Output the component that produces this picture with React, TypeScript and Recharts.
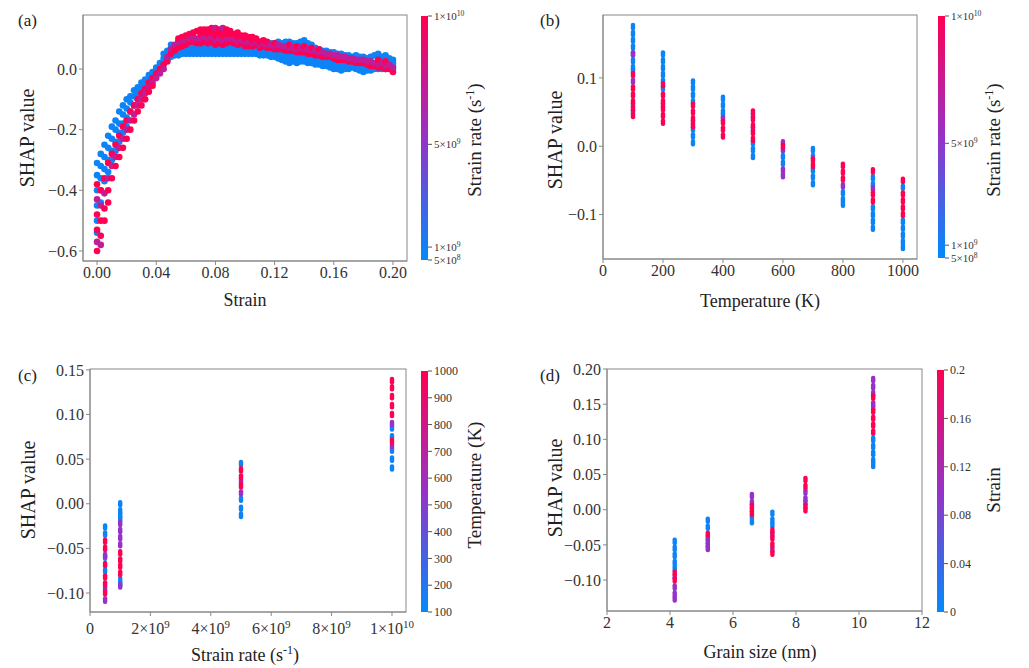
import React from 'react';
import { ScatterChart, Scatter, XAxis, YAxis } from 'recharts';

// colour value: 0 = low (blue), 1 = high (pink)
const LO = 0.04;
const MID = 0.5;
const HI = 1;

// (a) SHAP vs strain: [strain, blue ys, pink ys]
const strainCols: [number, number[], number[]][] = [
  [0.0, [-0.31, -0.35, -0.4, -0.45, -0.5, -0.54], [-0.38, -0.43, -0.48, -0.53, -0.57, -0.6]],
  [0.0025, [-0.28, -0.32, -0.36, -0.4, -0.44], [-0.4, -0.45, -0.5, -0.55, -0.58]],
  [0.005, [-0.25, -0.29, -0.33, -0.37], [-0.36, -0.41, -0.46, -0.5]],
  [0.0075, [-0.22, -0.26, -0.3, -0.34], [-0.31, -0.36, -0.4, -0.44]],
  [0.01, [-0.19, -0.23, -0.27, -0.3], [-0.28, -0.32, -0.36]],
  [0.0125, [-0.17, -0.2, -0.24, -0.27], [-0.25, -0.29, -0.32]],
  [0.015, [-0.14, -0.18, -0.21, -0.24], [-0.22, -0.26, -0.29]],
  [0.0175, [-0.12, -0.15, -0.18, -0.21], [-0.19, -0.23, -0.26]],
  [0.02, [-0.1, -0.13, -0.16, -0.19], [-0.17, -0.2, -0.23]],
  [0.0225, [-0.09, -0.11, -0.14], [-0.14, -0.17, -0.2]],
  [0.025, [-0.07, -0.09, -0.12], [-0.12, -0.15, -0.17]],
  [0.0275, [-0.06, -0.08, -0.1], [-0.1, -0.12, -0.14]],
  [0.03, [-0.045, -0.065, -0.085], [-0.08, -0.1, -0.12]],
  [0.0325, [-0.035, -0.05, -0.07], [-0.065, -0.08, -0.1]],
  [0.035, [-0.02, -0.035, -0.05], [-0.045, -0.06, -0.075]],
  [0.0375, [-0.01, -0.025], [-0.03, -0.045, -0.055]],
  [0.04, [0.005, -0.01], [-0.015, -0.03]],
  [0.0425, [0.02, 0.005], [0.0, -0.015]],
  [0.045, [0.035, 0.02, 0.05], [0.015, 0.0]],
  [0.0475, [0.045, 0.03, 0.06], [0.025, 0.04]],
  [0.05, [0.04, 0.055, 0.07, 0.08], [0.05, 0.065]],
  [0.0525, [0.045, 0.06, 0.075], [0.06, 0.08]],
  [0.055, [0.045, 0.06, 0.08, 0.09], [0.07, 0.09, 0.1]],
  [0.0575, [0.05, 0.065, 0.085], [0.075, 0.095, 0.105]],
  [0.06, [0.05, 0.06, 0.075, 0.1], [0.08, 0.095, 0.11]],
  [0.0625, [0.05, 0.065, 0.08], [0.09, 0.1, 0.115]],
  [0.065, [0.05, 0.06, 0.07, 0.085], [0.09, 0.105, 0.12]],
  [0.0675, [0.05, 0.06, 0.075], [0.085, 0.1, 0.125]],
  [0.07, [0.05, 0.06, 0.07], [0.085, 0.1, 0.115, 0.13]],
  [0.0725, [0.05, 0.065, 0.075], [0.09, 0.105, 0.12, 0.13]],
  [0.075, [0.05, 0.06, 0.07], [0.085, 0.1, 0.115, 0.13]],
  [0.0775, [0.05, 0.065, 0.075], [0.09, 0.105, 0.12, 0.135]],
  [0.08, [0.05, 0.06, 0.07], [0.08, 0.095, 0.11, 0.125, 0.135]],
  [0.0825, [0.05, 0.065, 0.075], [0.085, 0.1, 0.115, 0.13]],
  [0.085, [0.05, 0.06, 0.07], [0.08, 0.095, 0.11, 0.125, 0.135]],
  [0.0875, [0.05, 0.065, 0.075], [0.085, 0.1, 0.115, 0.13]],
  [0.09, [0.05, 0.06, 0.07, 0.08], [0.09, 0.1, 0.115, 0.125]],
  [0.0925, [0.05, 0.065, 0.075], [0.085, 0.1, 0.115]],
  [0.095, [0.05, 0.06, 0.07], [0.08, 0.09, 0.105, 0.12]],
  [0.0975, [0.05, 0.065, 0.08], [0.085, 0.095, 0.11]],
  [0.1, [0.05, 0.06, 0.07, 0.085], [0.075, 0.09, 0.1, 0.11]],
  [0.1025, [0.05, 0.065], [0.075, 0.09, 0.105]],
  [0.105, [0.05, 0.06, 0.07], [0.075, 0.085, 0.095, 0.105]],
  [0.1075, [0.05, 0.06, 0.07], [0.08, 0.09, 0.1]],
  [0.11, [0.045, 0.055, 0.065, 0.09], [0.07, 0.08, 0.09]],
  [0.1125, [0.045, 0.06, 0.085], [0.075, 0.085, 0.095]],
  [0.115, [0.045, 0.055, 0.065, 0.085], [0.07, 0.08, 0.09]],
  [0.1175, [0.04, 0.055, 0.085], [0.07, 0.08]],
  [0.12, [0.04, 0.05, 0.06, 0.085], [0.065, 0.075, 0.085]],
  [0.1225, [0.035, 0.05, 0.09], [0.065, 0.08]],
  [0.125, [0.03, 0.045, 0.055, 0.085], [0.065, 0.075]],
  [0.1275, [0.025, 0.04, 0.09], [0.06, 0.075]],
  [0.13, [0.02, 0.035, 0.05, 0.09], [0.06, 0.07, 0.08]],
  [0.1325, [0.025, 0.04, 0.085], [0.06, 0.07]],
  [0.135, [0.02, 0.035, 0.045, 0.085], [0.055, 0.065, 0.075]],
  [0.1375, [0.025, 0.04, 0.09], [0.055, 0.07]],
  [0.14, [0.025, 0.035, 0.045, 0.095], [0.055, 0.065, 0.075]],
  [0.1425, [0.02, 0.035, 0.085], [0.05, 0.065]],
  [0.145, [0.02, 0.03, 0.04, 0.08], [0.05, 0.06, 0.07]],
  [0.1475, [0.015, 0.03, 0.07], [0.045, 0.06]],
  [0.15, [0.015, 0.025, 0.035, 0.065], [0.045, 0.055, 0.065]],
  [0.1525, [0.01, 0.025, 0.06], [0.04, 0.055]],
  [0.155, [0.01, 0.02, 0.03, 0.06], [0.04, 0.05]],
  [0.1575, [0.005, 0.02, 0.055], [0.04, 0.05]],
  [0.16, [0.0, 0.01, 0.02, 0.055], [0.035, 0.045]],
  [0.1625, [0.0, 0.015, 0.05], [0.03, 0.045]],
  [0.165, [-0.005, 0.01, 0.02, 0.05], [0.03, 0.04]],
  [0.1675, [0.0, 0.015, 0.045], [0.03, 0.04]],
  [0.17, [0.0, 0.01, 0.02, 0.045], [0.025, 0.035]],
  [0.1725, [0.005, 0.015, 0.04], [0.025, 0.035]],
  [0.175, [0.0, 0.01, 0.02, 0.045], [0.02, 0.03]],
  [0.1775, [-0.005, 0.01, 0.04], [0.02, 0.03]],
  [0.18, [-0.01, 0.005, 0.015, 0.04], [0.02, 0.03]],
  [0.1825, [-0.005, 0.01, 0.035], [0.015, 0.025]],
  [0.185, [-0.005, 0.005, 0.015, 0.04], [0.01, 0.025]],
  [0.1875, [0.0, 0.01, 0.045], [0.01, 0.02]],
  [0.19, [0.0, 0.01, 0.02, 0.05], [0.005, 0.015, 0.03]],
  [0.1925, [0.0, 0.015, 0.04], [0.005, 0.02]],
  [0.195, [0.0, 0.01, 0.02, 0.045], [0.0, 0.01, 0.025]],
  [0.1975, [0.005, 0.015, 0.035], [0.0, 0.015]],
  [0.2, [0.0, 0.01, 0.02, 0.03], [-0.01, 0.005]],
];

// columns: [x, blue ys, pink ys, purple ys]
type Col = [number, number[], number[], number[]];

const tempCols: Col[] = [
  [100, [0.175, 0.165, 0.155, 0.145, 0.135, 0.125, 0.115, 0.11, 0.06, 0.05], [0.045, 0.055, 0.065, 0.075, 0.085, 0.105], [0.135, 0.095]],
  [200, [0.135, 0.125, 0.115, 0.105, 0.095, 0.085], [0.035, 0.045, 0.055, 0.065, 0.075, 0.09], [0.06]],
  [300, [0.094, 0.085, 0.075, 0.065, 0.025, 0.015, 0.005], [0.03, 0.04, 0.05, 0.06], [0.035]],
  [400, [0.07, 0.06, 0.05, 0.045], [0.015, 0.025, 0.035], [0.04]],
  [500, [0.045, 0.025, 0.005, -0.005, -0.015], [0.05, 0.04, 0.03, 0.02, 0.01], []],
  [600, [-0.015, -0.025], [0.0], [0.005, -0.005, -0.035, -0.043]],
  [700, [-0.005, -0.015, -0.035, -0.045, -0.055], [-0.02, -0.028], []],
  [800, [-0.068, -0.078, -0.085], [-0.028, -0.038, -0.048], [-0.058]],
  [900, [-0.046, -0.056, -0.09, -0.1, -0.11, -0.12], [-0.036, -0.07, -0.08], [-0.062]],
  [1000, [-0.06, -0.11, -0.12, -0.13, -0.14, -0.148], [-0.05, -0.07, -0.08, -0.09, -0.1], []],
];

const rateCols: Col[] = [
  [5e8, [-0.026, -0.034, -0.06, -0.075], [-0.042, -0.05, -0.068, -0.082, -0.09, -0.1], [-0.058, -0.095, -0.108]],
  [1e9, [0.0, -0.008, -0.013, -0.017, -0.085, -0.09], [-0.055, -0.063, -0.07, -0.078], [-0.022, -0.03, -0.038, -0.046, -0.092]],
  [5e9, [0.045, 0.005, -0.005, -0.013], [0.038, 0.03, 0.02], [0.012, 0.025]],
  [1e10, [0.04, 0.05, 0.06, 0.075, 0.085], [0.138, 0.13, 0.12, 0.11, 0.1, 0.07], [0.09, 0.065]],
];

const grainCols: Col[] = [
  [4.15, [-0.045, -0.055, -0.065, -0.075, -0.083], [-0.09, -0.1], [-0.095, -0.11, -0.12, -0.127]],
  [5.2, [-0.015, -0.025, -0.045], [-0.035], [-0.05, -0.055, -0.04]],
  [6.6, [-0.01, -0.017], [0.005, -0.005], [0.02, 0.01, 0.0]],
  [7.25, [-0.005, -0.015, -0.022], [-0.03, -0.04, -0.05, -0.062], [-0.035, -0.057]],
  [8.3, [0.01], [0.043, 0.033, 0.0, 0.005], [0.025, 0.015]],
  [10.45, [0.1, 0.09, 0.08, 0.07, 0.063, 0.145], [0.16, 0.14, 0.13, 0.12, 0.11], [0.185, 0.175, 0.165, 0.15]],
];

const ticksA = { x: [0, 0.04, 0.08, 0.12, 0.16, 0.2], y: [-0.6, -0.4, -0.2, 0] };
const ticksB = { x: [0, 200, 400, 600, 800, 1000], y: [-0.1, 0, 0.1] };
const ticksC = { x: [0, 2e9, 4e9, 6e9, 8e9, 1e10], y: [-0.1, -0.05, 0, 0.05, 0.1, 0.15] };
const ticksD = { x: [2, 4, 6, 8, 10, 12], y: [-0.1, -0.05, 0, 0.05, 0.1, 0.15, 0.2] };

// colorbar ticks: [position 0..1, mantissa, exponent]
const cbRate: [number, string, string][] = [[1, '1×10', '10'], [0.474, '5×10', '9'], [0.053, '1×10', '9'], [0, '5×10', '8']];
const cbTemp: [number, string, string][] = [100, 200, 300, 400, 500, 600, 700, 800, 900, 1000].map((t) => [(t - 100) / 900, String(t), '']);
const cbStrain: [number, string, string][] = [[0, '0', ''], [0.2, '0.04', ''], [0.4, '0.08', ''], [0.6, '0.12', ''], [0.8, '0.16', ''], [1, '0.2', '']];

const FONT = '"Times New Roman", "Liberation Serif", "DejaVu Serif", "Noto Serif", Times, serif';

function color(c: number) {
  const a = [0, 139, 251];
  const m = [150, 50, 200];
  const b = [255, 0, 82];
  const [p, q, t] = c < 0.5 ? [a, m, c / 0.5] : [m, b, (c - 0.5) / 0.5];
  const v = p.map((x, i) => Math.round(x + (q[i] - x) * t));
  return `rgb(${v[0]},${v[1]},${v[2]})`;
}

function fromCols(cols: Col[]) {
  const out: { x: number; y: number; c: number }[] = [];
  for (const [x, b, p, m] of cols) {
    b.forEach((y) => out.push({ x, y, c: LO }));
    m.forEach((y) => out.push({ x, y, c: MID }));
    p.forEach((y) => out.push({ x, y, c: HI }));
  }
  return out;
}

const dataA = (() => {
  const out: { x: number; y: number; c: number }[] = [];
  for (const [x, b] of strainCols) b.forEach((y) => out.push({ x, y, c: LO }));
  for (const [x, , p] of strainCols) p.forEach((y, i) => out.push({ x, y, c: i % 3 === 1 ? 0.7 : HI }));
  return out;
})();

const minus = (s: string) => s.replace('-', '−');

type Box = { l: number; t: number; r: number; b: number };

function Panel({
  box, data, xDomain, yDomain, ticks, yFmt, xFmt, xTick, bar,
}: {
  box: Box; data: any[]; xDomain: [number, number]; yDomain: [number, number];
  ticks: { x: number[]; y: number[] }; yFmt: (v: number) => string; xFmt?: (v: number) => string; xTick?: any; bar: 'dot' | 'rect';
}) {
  const YW = 60;
  const XH = 30;
  const shape = (p: any) =>
    bar === 'dot' ? (
      <circle cx={p.cx} cy={p.cy} r={3.3} fill={color(p.payload.c)} />
    ) : (
      <rect x={p.cx - 2.2} y={p.cy - 3.8} width={4.4} height={7.6} rx={2} fill={color(p.payload.c)} />
    );
  const axisStyle = { stroke: '#888' };
  return (
    <div style={{ position: 'absolute', left: 0, top: 0 }}>
      <ScatterChart
        width={1029}
        height={668}
        margin={{ top: box.t, left: box.l - YW, right: 1029 - box.r, bottom: 668 - box.b - XH }}
      >
        <XAxis
          type="number" dataKey="x" domain={xDomain} ticks={ticks.x} allowDataOverflow
          height={XH} axisLine={axisStyle} tickLine={axisStyle} tickSize={4}
          tick={xTick ?? { fill: '#333', fontSize: 16, fontFamily: FONT }}
          tickFormatter={(v) => (xFmt ? xFmt(v) : String(v))} interval={0}
        />
        <YAxis
          type="number" dataKey="y" domain={yDomain} ticks={ticks.y} allowDataOverflow
          width={YW} axisLine={axisStyle} tickLine={axisStyle} tickSize={4}
          tick={{ fill: '#333', fontSize: 16, fontFamily: FONT }}
          tickFormatter={(v) => minus(yFmt(v))} interval={0}
        />
        <Scatter data={data} isAnimationActive={false} shape={shape} />
      </ScatterChart>
    </div>
  );
}

function SciTick({ x, y, payload }: any) {
  const v = payload.value as number;
  if (v === 0) return <text x={x} y={y + 16} textAnchor="middle" fontSize={16} fontFamily={FONT} fill="#333">0</text>;
  const exp = Math.floor(Math.log10(v) + 1e-9);
  const man = Math.round(v / Math.pow(10, exp));
  return (
    <text x={x} y={y + 16} textAnchor="middle" fontSize={16} fontFamily={FONT} fill="#333">
      {man}×10<tspan dy={-6} fontSize={11}>{exp}</tspan>
    </text>
  );
}

function Colorbar({ x, top, bottom, ticks, fs }: { x: number; top: number; bottom: number; ticks: [number, string, string][]; fs: number }) {
  const h = bottom - top;
  return (
    <g>
      <rect x={x} y={top} width={7} height={h} fill="url(#shapgrad)" />
      {ticks.map(([v, a, e], i) => {
        const yy = bottom - v * h;
        return (
          <g key={i}>
            <line x1={x + 7} x2={x + 11} y1={yy} y2={yy} stroke="#555" />
            <text x={x + 13} y={yy + fs * 0.35} fontSize={fs} fontFamily={FONT} fill="#333">
              {a}
              {e && <tspan dy={-4} fontSize={fs * 0.7}>{e}</tspan>}
            </text>
          </g>
        );
      })}
    </g>
  );
}

const BA: Box = { l: 83, t: 15, r: 407, b: 261 };
const BB: Box = { l: 603, t: 15, r: 917, b: 259 };
const BC: Box = { l: 90, t: 369, r: 406, b: 612 };
const BD: Box = { l: 607, t: 369, r: 922, b: 611 };

const T = (p: any) => <text fontFamily={FONT} fill="#222" {...p} />;
const sup = (
  <>
    <tspan dy={-7} fontSize={12}>-1</tspan>
    <tspan dy={7}>)</tspan>
  </>
);

export default function App() {
  return (
    <div style={{ position: 'absolute', left: 0, top: 0, width: 1029, height: 668, background: '#fff', fontFamily: FONT }}>
      <Panel box={BA} data={dataA} xDomain={[-0.0095, 0.2095]} yDomain={[-0.633, 0.178]} ticks={ticksA} yFmt={(v) => v.toFixed(1)} xFmt={(v) => v.toFixed(2)} bar="dot" />
      <Panel box={BB} data={fromCols(tempCols)} xDomain={[0, 1047]} yDomain={[-0.165, 0.192]} ticks={ticksB} yFmt={(v) => v.toFixed(1)} bar="rect" />
      <Panel box={BC} data={fromCols(rateCols)} xDomain={[0, 1.0464e10]} yDomain={[-0.1213, 0.151]} ticks={ticksC} yFmt={(v) => v.toFixed(2)} bar="rect" xTick={<SciTick />} />
      <Panel box={BD} data={fromCols(grainCols)} xDomain={[2, 12]} yDomain={[-0.144, 0.2]} ticks={ticksD} yFmt={(v) => v.toFixed(2)} bar="rect" />
      <svg width={1029} height={668} style={{ position: 'absolute', left: 0, top: 0, pointerEvents: 'none' }}>
        <defs>
          <linearGradient id="shapgrad" x1="0" y1="1" x2="0" y2="0">
            <stop offset="0" stopColor={color(0)} />
            <stop offset="0.5" stopColor={color(0.5)} />
            <stop offset="1" stopColor={color(1)} />
          </linearGradient>
        </defs>
        {[BA, BB, BC, BD].map((b, i) => (
          <rect key={i} x={b.l} y={b.t} width={b.r - b.l} height={b.b - b.t} fill="none" stroke="#888" />
        ))}
        <Colorbar x={421} top={16} bottom={260} ticks={cbRate} fs={11} />
        <Colorbar x={938} top={16} bottom={258} ticks={cbRate} fs={11} />
        <Colorbar x={421} top={371} bottom={612} ticks={cbTemp} fs={12} />
        <Colorbar x={937} top={370} bottom={612} ticks={cbStrain} fs={12} />

        <T x={18} y={26} fontSize={17}>(a)</T>
        <T x={540} y={26} fontSize={17}>(b)</T>
        <T x={18} y={381} fontSize={17}>(c)</T>
        <T x={540} y={381} fontSize={17}>(d)</T>

        <T x={0} y={0} fontSize={20} textAnchor="middle" transform="translate(34,138) rotate(-90)">SHAP value</T>
        <T x={0} y={0} fontSize={20} textAnchor="middle" transform="translate(562,140) rotate(-90)">SHAP value</T>
        <T x={0} y={0} fontSize={20} textAnchor="middle" transform="translate(35,490) rotate(-90)">SHAP value</T>
        <T x={0} y={0} fontSize={20} textAnchor="middle" transform="translate(562,488) rotate(-90)">SHAP value</T>

        <T x={245} y={306} fontSize={18} textAnchor="middle">Strain</T>
        <T x={760} y={307} fontSize={18} textAnchor="middle">Temperature (K)</T>
        <T x={245} y={661} fontSize={18} textAnchor="middle">Strain rate (s{sup}</T>
        <T x={760} y={658} fontSize={18} textAnchor="middle">Grain size (nm)</T>

        <T x={0} y={0} fontSize={19} textAnchor="middle" transform="translate(481,140) rotate(-90)">Strain rate (s{sup}</T>
        <T x={0} y={0} fontSize={19} textAnchor="middle" transform="translate(1000,140) rotate(-90)">Strain rate (s{sup}</T>
        <T x={0} y={0} fontSize={19} textAnchor="middle" transform="translate(481,485) rotate(-90)">Temperature (K)</T>
        <T x={0} y={0} fontSize={19} textAnchor="middle" transform="translate(1000,490) rotate(-90)">Strain</T>
      </svg>
    </div>
  );
}
